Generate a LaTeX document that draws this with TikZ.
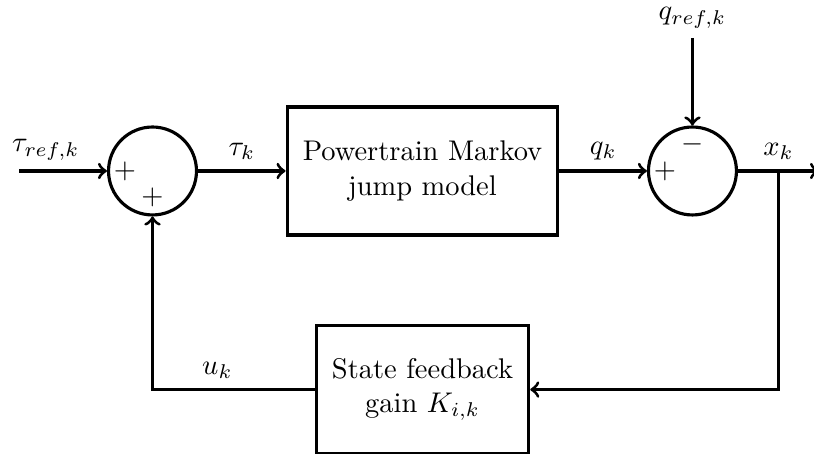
\documentclass[tikz,border=0pt]{standalone}
\usepackage{amssymb}
\usepackage{amsmath}
\usepackage{tikz}
\usetikzlibrary{shapes,arrows,positioning,calc}
\tikzset{
      sumnode/.style   = {circle, draw, line width=1.1pt, minimum size=1.086cm, inner sep=0pt},
      blocknode/.style = {rectangle, draw, line width=1.1pt, align=center, minimum height=1.58cm, inner sep=5.5pt},
      sigedge/.style   = {black, line width=1.1pt, ->},
    }

\begin{document}
\begin{tikzpicture}[node distance=1.08cm]
        \useasboundingbox (-1.883,-3.49) rectangle (8.167,2.111);
        \node[sumnode] (s1) {};
        \node[blocknode, right=of s1] (plant) {Powertrain Markov\\jump model};
        \node[sumnode, right=of plant] (s2) {};
        \node[above=of s2] (qref) {$q_{ref,k}$};
        \node[blocknode, below=of plant] (gain) {State feedback\\gain $K_{i,k}$};
        \coordinate[left=of s1] (in);
        \coordinate[right=1cm of s2] (out);
        \coordinate (branch) at ($(s2.east)!0.5!(out)$);

        % signs
        \node (p1) at ([xshift=-0.34cm]s1.center) {$+$};
        \node (p2) at ([yshift=-0.33cm]s1.center) {$+$};
        \node (p3) at ([xshift=-0.34cm]s2.center) {$+$};
        \node (m1) at ([yshift=0.33cm]s2.center) {$-$};

        \path (in) edge[sigedge] node[above, pos=0.3] {$\tau_{ref,k}$} (s1);
        \path (s1) edge[sigedge] node[above] {$\tau_k$} (plant);
        \path (plant) edge[sigedge] node[above] {$q_k$} (s2);
        \path (qref) edge[sigedge] (s2);
        \path (s2) edge[sigedge] node[above] {$x_k$} (out);
        \draw[sigedge] (branch) |- (gain.east);
        \draw[sigedge] (gain.west) -| node[above, pos=0.3] {$u_k$} (s1.south);
\end{tikzpicture}
\end{document}
